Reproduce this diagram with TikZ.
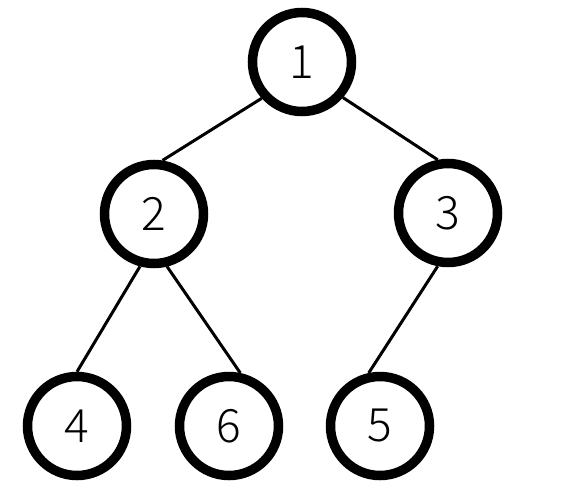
\documentclass[tikz,border=0pt]{standalone}
\usepackage{fontspec}
\newfontfamily\digitfont{Noto Sans CJK JP}[UprightFont={* Light}]
\begin{document}
\begin{tikzpicture}[x=1pt,y=-1pt,
  treenode/.style={circle,draw=black,line width=9.5pt,fill=white,minimum size=99pt,inner sep=0pt,
    font=\digitfont\fontsize{46}{46}\selectfont},
  edge/.style={draw=black,line width=3pt}]
\useasboundingbox (0,0) rectangle (564,498);
\node[treenode] (n1) at (302,62) {1};
\node[treenode] (n2) at (154,214) {2};
\node[treenode] (n3) at (448,213) {3};
\node[treenode] (n4) at (77,426) {4};
\node[treenode] (n6) at (229,426) {6};
\node[treenode] (n5) at (380,426) {5};
\draw[edge] (n1.222) -- (n2.81);
\draw[edge] (n1.319) -- (n3.101);
\draw[edge] (n2.255) -- (n4.90);
\draw[edge] (n2.284) -- (n6.78);
\draw[edge] (n3.259) -- (n5.102);
\end{tikzpicture}
\end{document}
